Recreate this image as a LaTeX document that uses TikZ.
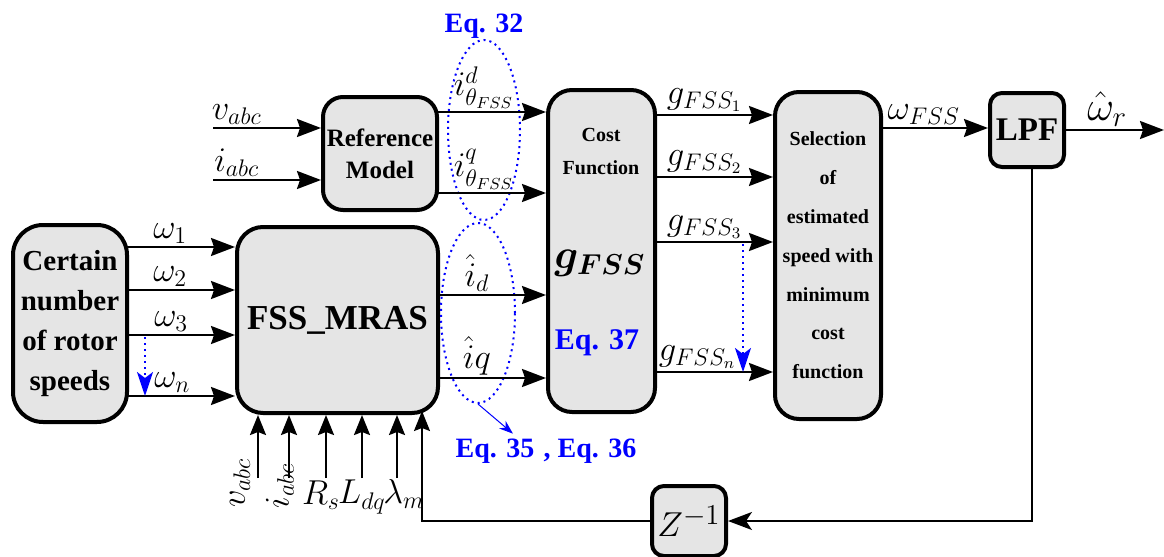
\documentclass[tikz,border=0pt]{standalone}
\usepackage{amsmath,bm}
\usepackage{fontspec}
\setmainfont{Liberation Serif}
\usetikzlibrary{arrows.meta,shapes.geometric}

\tikzset{
  blk/.style={draw, line width=2pt, fill=black!10, rounded corners=10pt,
    inner sep=0pt, align=center},
  arr/.style={-{Stealth[length=12pt,width=9pt,inset=1.5pt]}, line width=1.1pt},
  upin/.style={-{Stealth[length=10pt,width=8pt,inset=1.5pt]}, line width=1.1pt},
  lbl/.style={font=\fontsize{17}{20}\selectfont, inner sep=1pt},
  eqn/.style={text=blue, font=\bfseries\fontsize{14}{16}\selectfont},
  oval/.style={draw=blue, dotted, line width=1pt, ellipse, inner sep=0pt},
  hint/.style={draw=blue, dotted, line width=1pt,
    -{Stealth[length=12pt,width=8pt,inset=3pt,blue]}}
}

\begin{document}
\begin{tikzpicture}[x=0.5pt,y=-0.5pt]
  \useasboundingbox (0,0) rectangle (1164,557);

  % blocks
  \node[blk, minimum width=57pt, minimum height=98.5pt, rounded corners=15pt,
    font=\bfseries\fontsize{14.5}{20}\selectfont] (speeds) at (70,323.5)
    {Certain\\number\\of rotor\\speeds};
  \node[blk, minimum width=100.5pt, minimum height=93pt, rounded corners=13pt,
    font=\bfseries\fontsize{17.5}{20}\selectfont] (mras) at (337.5,320) {FSS\_MRAS};
  \node[blk, minimum width=57pt, minimum height=56.5pt,
    font=\bfseries\fontsize{12.5}{16}\selectfont] (refm) at (380,153.5) {Reference\\Model};
  \node[blk, minimum width=53.5pt, minimum height=161pt, rounded corners=12pt]
    (cost) at (601.5,251) {};
  \node[blk, minimum width=53pt, minimum height=163.5pt, rounded corners=12pt,
    font=\bfseries\fontsize{10}{19.4}\selectfont] (sel) at (828,255.5)
    {Selection\\of\\estimated\\speed with\\minimum\\cost\\function};
  \node[blk, minimum width=37pt, minimum height=37pt, rounded corners=6pt,
    font=\bfseries\fontsize{16.5}{18}\selectfont] (lpf) at (1027,130) {LPF};
  \node[blk, minimum width=37pt, minimum height=35pt, rounded corners=6pt,
    font=\fontsize{19}{21}\selectfont] (zinv) at (689,521) {$Z^{-1}$};

  % inside the cost block
  \node[font=\bfseries\fontsize{10}{16.5}\selectfont, align=center] (costtxt)
    at (601,151) {Cost\\Function};
  \node[font=\fontsize{22}{24}\selectfont] (gfss) at (600,263) {$\bm{g_{FSS}}$};
  \node[eqn, font=\bfseries\fontsize{15}{17}\selectfont] (eqc) at (597,343) {Eq. 37};

  % equation marks
  \node[oval, minimum width=36pt, minimum height=90pt] (ova) at (484,130) {};
  \node[oval, minimum width=37pt, minimum height=90pt] (ovb) at (478,313) {};
  \node[eqn] (eqa) at (484,26) {Eq. 32};
  \node[eqn] (eqb) at (495,451) {Eq. 35};
  \node[eqn] (eqd) at (590,451) {, Eq. 36};
  \draw[blue, line width=0.5pt, -{Stealth[length=7pt,width=5pt]}]
    (ovb.south) -- ([xshift=9pt,yshift=-1pt]eqb.north);

  % reference model
  \coordinate (vin) at (213,128);
  \coordinate (iin) at (213,180);
  \draw[arr] (vin) -- node[lbl, above, pos=0.22] {$v_{abc}$} (vin -| refm.west);
  \draw[arr] (iin) -- node[lbl, above, pos=0.22] {$i_{abc}$} (iin -| refm.west);
  \coordinate (thd) at (437,112);
  \coordinate (thq) at (437,193);
  \draw[arr] (thd) -- node[lbl, above, pos=0.43] {$i^{d}_{\theta_{FSS}}$} (thd -| cost.west);
  \draw[arr] (thq) -- node[lbl, above, pos=0.43] {$i^{q}_{\theta_{FSS}}$} (thq -| cost.west);

  % speeds into the MRAS
  \coordinate (w1) at (127,247);
  \coordinate (w2) at (127,290);
  \coordinate (w3) at (127,335);
  \coordinate (wn) at (127,396);
  \draw[arr] (w1) -- node[lbl, above, pos=0.4] {$\omega_1$} (w1 -| mras.west);
  \draw[arr] (w2) -- node[lbl, above, pos=0.4] {$\omega_2$} (w2 -| mras.west);
  \draw[arr] (w3) -- node[lbl, above, pos=0.41] {$\omega_3$} (w3 -| mras.west);
  \draw[arr] (wn) -- node[lbl, above, pos=0.42] {$\omega_n$} (wn -| mras.west);
  \coordinate (wdot) at (145,337);
  \draw[hint] (wdot) -- (wdot |- wn);

  % MRAS outputs
  \coordinate (hd) at (438,295);
  \coordinate (hq) at (438,378);
  \draw[arr] (hd) -- node[lbl, above, pos=0.36] {$\hat{i}_d$} (hd -| cost.west);
  \draw[arr] (hq) -- node[lbl, above, pos=0.36] {$\hat{i}q$} (hq -| cost.west);

  % MRAS parameters
  \coordinate (pv) at (258,478);
  \coordinate (pi) at (289,478);
  \coordinate (pr) at (326,478);
  \coordinate (pl) at (362,478);
  \coordinate (pm) at (397,478);
  \draw[upin] (pv) -- (pv |- mras.south);
  \draw[upin] (pi) -- (pi |- mras.south);
  \draw[upin] (pr) -- (pr |- mras.south);
  \draw[upin] (pl) -- (pl |- mras.south);
  \draw[upin] (pm) -- (pm |- mras.south);
  \node[lbl, rotate=90] (lv) at (240,483) {$v_{abc}$};
  \node[lbl, rotate=90] (li) at (280,486) {$i_{abc}$};
  \node[lbl] (lr) at (321,495) {$R_s$};
  \node[lbl] (ll) at (362,497) {$L_{dq}$};
  \node[lbl] (lm) at (404,494) {$\lambda_m$};

  % cost outputs
  \coordinate (g1) at (655,115);
  \coordinate (g2) at (655,177);
  \coordinate (g3) at (655,242);
  \coordinate (gn) at (655,372);
  \draw[arr] (g1) -- node[lbl, above, pos=0.42] {$g_{FSS_1}$} (g1 -| sel.west);
  \draw[arr] (g2) -- node[lbl, above, pos=0.42] {$g_{FSS_2}$} (g2 -| sel.west);
  \draw[arr] (g3) -- node[lbl, above, pos=0.42] {$g_{FSS_3}$} (g3 -| sel.west);
  \draw[arr] (gn) -- node[lbl, above, pos=0.36] {$g_{FSS_n}$} (gn -| sel.west);
  \coordinate (gdot) at (743,244);
  \draw[hint] (gdot) -- (gdot |- gn);

  % selection and filter
  \coordinate (wf) at (881,128);
  \draw[arr] (wf) -- node[lbl, above, pos=0.4] {$\omega_{FSS}$} (wf -| lpf.west);
  \coordinate (wr) at (1164,130);
  \draw[arr] (lpf) -- node[lbl, above, pos=0.42, font=\fontsize{22}{24}\selectfont] {$\hat{\omega}_r$} (wr);

  % feedback
  \coordinate (fin) at (422,411);
  \draw[line width=0.9pt, -{Stealth[length=12pt,width=9pt,inset=3pt]}]
    ([xshift=2.5pt]lpf.south) |- (zinv.east);
  \draw[upin, line width=0.9pt] (zinv.west) -| (fin);
\end{tikzpicture}
\end{document}
